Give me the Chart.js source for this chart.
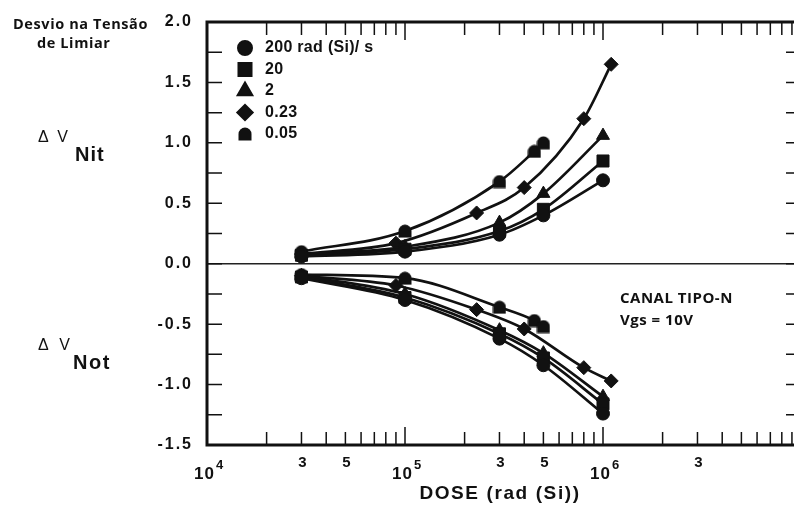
<!DOCTYPE html>
<html>
<head>
<meta charset="utf-8">
<script src="https://cdn.jsdelivr.net/npm/chart.js@4.4.0/dist/chart.umd.min.js"></script>
<style>
html,body{margin:0;padding:0;background:#fff;overflow:hidden;}
#wrap{width:830px;height:506px;}
</style>
</head>
<body>
<div id="wrap"><canvas id="myChart" width="830" height="506"></canvas></div>
<script>
// dose rates (rad(Si)/s)
var rates = ['200 rad (Si)/ s', '20', '2', '0.23', '0.05'];

// dose points (rad(Si)) and threshold shifts (V) for each rate
var dose200 = [3e4, 1e5, 3e5, 5e5, 1e6];
var nit200  = [0.06, 0.10, 0.24, 0.40, 0.69];
var not200  = [-0.12, -0.30, -0.62, -0.84, -1.24];

var dose20 = [3e4, 1e5, 3e5, 5e5, 1e6];
var nit20  = [0.07, 0.12, 0.27, 0.45, 0.85];
var not20  = [-0.11, -0.28, -0.58, -0.78, -1.16];

var dose2 = [3e4, 1e5, 3e5, 5e5, 1e6];
var nit2  = [0.08, 0.14, 0.34, 0.58, 1.06];
var not2  = [-0.10, -0.25, -0.55, -0.74, -1.10];

var dose023 = [3e4, 9e4, 2.3e5, 4e5, 8e5, 1.1e6];
var nit023  = [0.08, 0.17, 0.42, 0.63, 1.20, 1.65];
var not023  = [-0.10, -0.18, -0.38, -0.54, -0.86, -0.97];

var dose005 = [3e4, 1e5, 3e5, 4.5e5, 5e5];
var nit005  = [0.10, 0.27, 0.68, 0.93, 1.00];
var not005  = [-0.09, -0.12, -0.36, -0.47, -0.52];

// axis labels
var yTickLabels = [-1.5, -1.0, -0.5, 0.0, 0.5, 1.0, 1.5, 2.0];
var xDecadeLabels = [1e4, 1e5, 1e6];
var xMinorLabels = [3e4, 5e4, 3e5, 5e5, 3e6];

// bell shaped marker for the slowest rate
var dome = document.createElement('canvas');
dome.width = 14; dome.height = 14;
(function(){
    var c = dome.getContext('2d');
    c.fillStyle = '#111';
    c.beginPath();
    c.arc(7, 7, 6.5, Math.PI, 0);
    c.lineTo(13.5, 13.5);
    c.lineTo(0.5, 13.5);
    c.closePath();
    c.fill();
})();

var markers = [
    {style: 'circle', r: 6.5},
    {style: 'rect', r: 8.5},
    {style: 'triangle', r: 7.5},
    {style: 'rectRot', r: 7},
    {style: dome, r: 7}
];

function pts(xs, ys){
    var out = [];
    for(var i=0;i<xs.length;i++) out.push({x: xs[i], y: ys[i]});
    return out;
}

var series = [
    [dose200, nit200, not200],
    [dose20, nit20, not20],
    [dose2, nit2, not2],
    [dose023, nit023, not023],
    [dose005, nit005, not005]
];

var datasets = [];
for(var i=0;i<series.length;i++){
    for(var k=1;k<=2;k++){
        datasets.push({
            label: rates[i],
            data: pts(series[i][0], series[i][k]),
            borderColor: '#111',
            backgroundColor: '#111',
            pointBackgroundColor: '#111',
            pointBorderColor: '#111',
            pointBorderWidth: 1,
            borderWidth: 2.7,
            pointStyle: markers[i].style,
            pointRadius: markers[i].r,
            cubicInterpolationMode: 'monotone',
            clip: false
        });
    }
}

function txt(c, s, x, y, font, align, spacing){
    c.font = font;
    c.textAlign = align || 'left';
    c.textBaseline = 'middle';
    c.letterSpacing = spacing || '0px';
    c.fillText(s, x, y);
    c.letterSpacing = '0px';
}

var frame = {
    id: 'frame',
    beforeDatasetsDraw: function(chart){
        var c = chart.ctx, a = chart.chartArea, y0 = chart.scales.y.getPixelForValue(0);
        c.save();
        c.strokeStyle = '#222';
        c.lineWidth = 1.5;
        c.beginPath();
        c.moveTo(a.left, y0); c.lineTo(a.right, y0);
        c.stroke();
        c.restore();
    },
    afterDraw: function(chart){
        var c = chart.ctx, a = chart.chartArea;
        var xs = chart.scales.x, ys = chart.scales.y;
        c.save();
        c.strokeStyle = '#111';
        c.fillStyle = '#111';

        // inward ticks
        c.lineWidth = 1.5;
        c.beginPath();
        for(var d=4; d<7; d++){
            for(var m=1; m<10; m++){
                var px = xs.getPixelForValue(m*Math.pow(10, d));
                var len = m==1 ? 18 : 13;
                c.moveTo(px, a.top); c.lineTo(px, a.top+len);
                c.moveTo(px, a.bottom); c.lineTo(px, a.bottom-len);
            }
        }
        for(var v=-1.25; v<2; v+=0.25){
            var py = ys.getPixelForValue(v);
            c.moveTo(a.left, py); c.lineTo(a.left+15, py);
            c.moveTo(a.right, py); c.lineTo(a.right-15, py);
        }
        c.stroke();

        // frame
        c.lineWidth = 3;
        c.strokeRect(a.left, a.top, a.right-a.left, a.bottom-a.top);

        // y tick labels
        for(var i=0;i<yTickLabels.length;i++){
            var t = yTickLabels[i];
            var s = t < 0 ? '-' + Math.abs(t).toFixed(1) : t.toFixed(1);
            txt(c, s, 193, ys.getPixelForValue(t), 'bold 16px "Liberation Sans"', 'right', '2px');
        }

        // x tick labels
        for(var i=0;i<xDecadeLabels.length;i++){
            var px = xs.getPixelForValue(xDecadeLabels[i]);
            var e = String(Math.round(Math.log10(xDecadeLabels[i])));
            txt(c, '10', px+8, 474, 'bold 17px "Liberation Sans"', 'right', '1px');
            txt(c, e, px+9, 465, 'bold 13px "Liberation Sans"', 'left');
        }
        for(var i=0;i<xMinorLabels.length;i++){
            var px = xs.getPixelForValue(xMinorLabels[i]);
            var lead = String(Math.round(xMinorLabels[i] / Math.pow(10, Math.floor(Math.log10(xMinorLabels[i])))));
            txt(c, lead, px+1, 463, 'bold 15px "Liberation Sans"', 'center');
        }
        txt(c, 'DOSE (rad (Si))', 500, 494, 'bold 19px "Liberation Sans"', 'center', '1.6px');

        // legend
        for(var i=0;i<rates.length;i++){
            var ly = 48 + i*21.5;
            if(typeof markers[i].style === 'string'){
                Chart.helpers.drawPoint(c, {pointStyle: markers[i].style, radius: markers[i].r, rotation: 0, borderWidth: 1}, 245, ly);
                c.fill();
            }else{
                c.drawImage(markers[i].style, 245-7, ly-7);
            }
            txt(c, rates[i], 265, ly, 'bold 16px "Liberation Sans"', 'left', '0.3px');
        }

        // axis annotations
        txt(c, 'Desvio na Tensão', 13, 25, 'bold 14.5px "Open Sans"', 'left', '0.6px');
        txt(c, 'de Limiar', 37, 44, 'bold 14.5px "Open Sans"', 'left', '0.6px');
        txt(c, 'Δ V', 38, 138, '16px "Liberation Sans"', 'left', '2px');
        txt(c, 'Nit', 75, 155, 'bold 20px "Liberation Sans"', 'left', '1px');
        txt(c, 'Δ V', 38, 346, '16px "Liberation Sans"', 'left', '3px');
        txt(c, 'Not', 73, 363, 'bold 20px "Liberation Sans"', 'left', '1.5px');

        txt(c, 'CANAL TIPO-N', 620, 299, 'bold 15px "Open Sans"', 'left', '0.5px');
        txt(c, 'Vgs = 10V', 620, 321, 'bold 15px "Open Sans"', 'left', '0.5px');
        c.restore();
    }
};

var ctx = document.getElementById('myChart').getContext('2d');
var myChart = new Chart(ctx, {
    type: 'line',
    data: { datasets: datasets },
    options: {
        responsive: false,
        animation: false,
        devicePixelRatio: 1,
        layout: { padding: { left: 207, right: 29, top: 22, bottom: 61 } },
        plugins: { legend: { display: false }, tooltip: { enabled: false } },
        scales: {
            x: { type: 'logarithmic', min: 1e4, max: 1e7, display: false },
            y: { type: 'linear', min: -1.5, max: 2.0, display: false }
        }
    },
    plugins: [frame]
});
</script>
</body>
</html>
